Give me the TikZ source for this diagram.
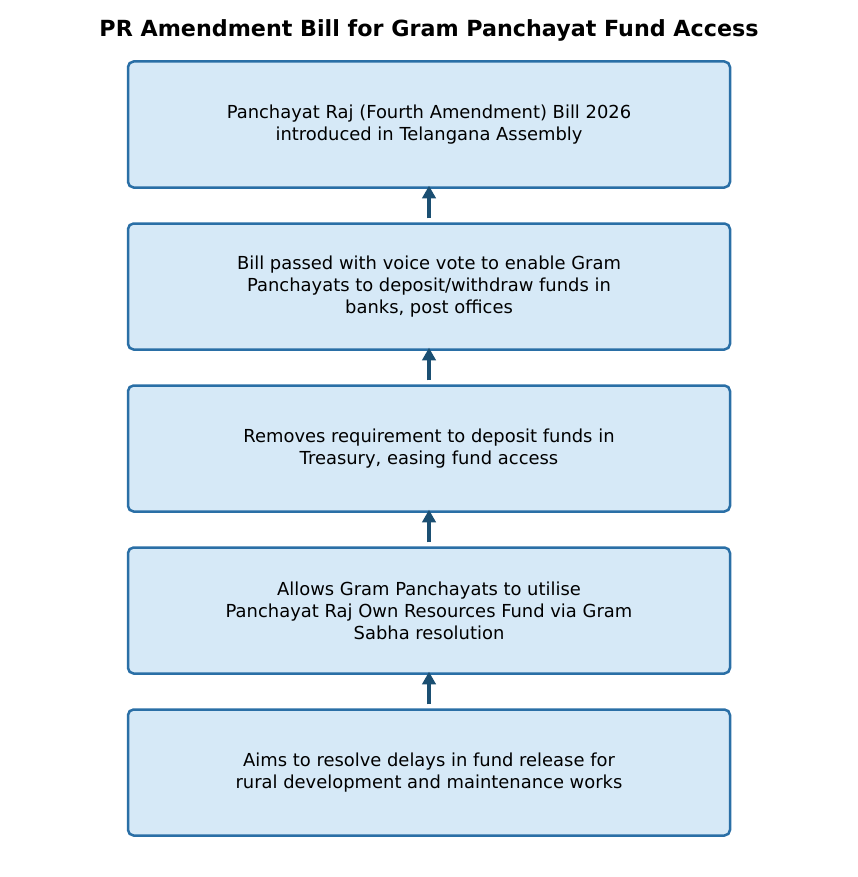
\documentclass[tikz,border=0pt]{standalone}
\usepackage{fontspec}
\setmainfont{DejaVu Sans}
\usetikzlibrary{arrows.meta}
\definecolor{boxfill}{HTML}{D6E9F7}
\definecolor{boxline}{HTML}{2A6FA6}
\definecolor{arrowc}{HTML}{1B4F72}
\begin{document}
\begin{tikzpicture}[x=0.72pt,y=-0.72pt,
  stepbox/.style={draw=boxline,fill=boxfill,line width=1.8pt,rounded corners=4pt,
    minimum width=602*0.72pt,minimum height=126*0.72pt,align=center,
    font=\fontsize{12.9}{15.8}\selectfont,inner sep=0pt},
  flow/.style={draw=arrowc,line width=2.3pt,-{Triangle[length=9pt,width=9.5pt]}}]
\useasboundingbox (0,0) rectangle (858,877);
\node[font=\bfseries\fontsize{16}{19}\selectfont] (title) at (429,30) {PR Amendment Bill for Gram Panchayat Fund Access};
\node[stepbox] (b1) at (429,124.5) {Panchayat Raj (Fourth Amendment) Bill 2026\\introduced in Telangana Assembly};
\node[stepbox] (b2) at (429,286.5) {Bill passed with voice vote to enable Gram\\Panchayats to deposit/withdraw funds in\\banks, post offices};
\node[stepbox] (b3) at (429,448.5) {Removes requirement to deposit funds in\\Treasury, easing fund access};
\node[stepbox] (b4) at (429,610.5) {Allows Gram Panchayats to utilise\\Panchayat Raj Own Resources Fund via Gram\\Sabha resolution};
\node[stepbox] (b5) at (429,772.5) {Aims to resolve delays in fund release for\\rural development and maintenance works};
\draw[flow] ([yshift=4*0.72pt]b2.north) -- ([yshift=3*0.72pt]b1.south);
\draw[flow] ([yshift=4*0.72pt]b3.north) -- ([yshift=3*0.72pt]b2.south);
\draw[flow] ([yshift=4*0.72pt]b4.north) -- ([yshift=3*0.72pt]b3.south);
\draw[flow] ([yshift=4*0.72pt]b5.north) -- ([yshift=3*0.72pt]b4.south);
\end{tikzpicture}
\end{document}
